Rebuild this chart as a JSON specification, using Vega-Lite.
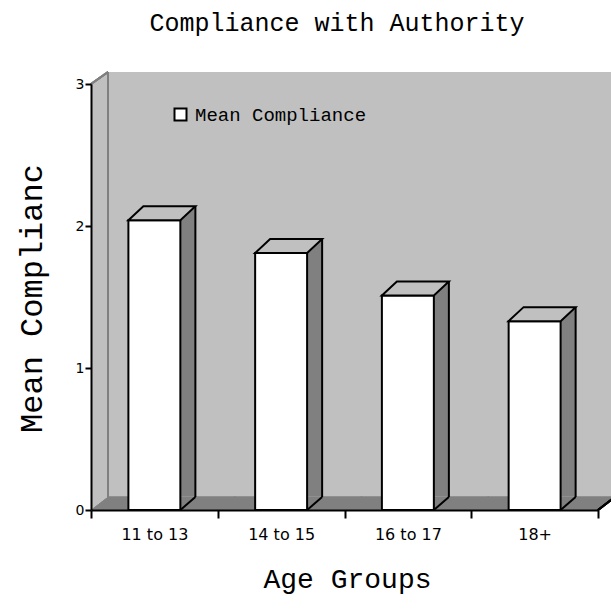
{
  "$schema": "https://vega.github.io/schema/vega-lite/v6.json",
  "width": 520,
  "height": 438,
  "autosize": "none",
  "padding": {"left": 91, "top": 72, "right": 0, "bottom": 86},
  "background": "white",
  "config": {"view": {"fill": "#c0c0c0", "stroke": null}},
  "title": {
    "text": "Compliance with Authority",
    "font": "Liberation Mono",
    "fontSize": 25,
    "fontWeight": "normal",
    "color": "black",
    "anchor": "middle",
    "dx": -14,
    "baseline": "alphabetic",
    "offset": 12
  },
  "data": {
    "values": [
      {"age": "11 to 13", "mean": 2.04},
      {"age": "14 to 15", "mean": 1.81},
      {"age": "16 to 17", "mean": 1.51},
      {"age": "18+", "mean": 1.33}
    ]
  },
  "encoding": {
    "x": {
      "field": "age",
      "type": "nominal",
      "sort": null,
      "title": "Age Groups",
      "scale": {"range": [0, 507], "paddingInner": 0, "paddingOuter": 0},
      "axis": {
        "titleFont": "Liberation Mono",
        "titleFontSize": 28,
        "titleFontWeight": "normal",
        "titleColor": "black",
        "titleX": 256,
        "titleY": 77,
        "titleBaseline": "alphabetic",
        "titleAlign": "center",
        "labelFont": "DejaVu Sans",
        "labelFontSize": 16,
        "labelColor": "black",
        "labelAngle": 0,
        "labelBaseline": "alphabetic",
        "labelPadding": 21,
        "tickSize": 8,
        "tickWidth": 2,
        "tickColor": "black",
        "tickBand": "extent",
        "domainColor": "black",
        "domainWidth": 2,
        "zindex": 1
      }
    },
    "y": {
      "field": "mean",
      "type": "quantitative",
      "title": "Mean Complianc",
      "scale": {"domain": [0, 3], "range": [438, 12], "nice": false, "zero": true},
      "axis": {
        "values": [0, 1, 2, 3],
        "grid": false,
        "titleFont": "Liberation Mono",
        "titleFontSize": 32,
        "titleFontWeight": "normal",
        "titleColor": "black",
        "titleX": -50,
        "titleY": 226,
        "titleBaseline": "alphabetic",
        "titleAlign": "center",
        "labelFont": "DejaVu Sans",
        "labelFontSize": 14,
        "labelColor": "black",
        "labelPadding": 1,
        "tickSize": 6,
        "tickWidth": 2,
        "tickColor": "black",
        "domainColor": "black",
        "domainWidth": 2,
        "zindex": 1
      }
    }
  },
  "layer": [
    {
      "mark": {"type": "rect", "fill": "#808080", "stroke": "#808080", "strokeWidth": 1.5, "xOffset": 17, "x2Offset": 17, "yOffset": -13},
      "encoding": {"y": {"datum": 0, "type": "quantitative"}, "y2": {"datum": 0}}
    },
    {
      "mark": {"type": "point", "shape": "M0,0L17,-13L18,-13L18,0Z", "size": 4, "filled": true, "fill": "#808080", "strokeWidth": 0, "opacity": 1},
      "encoding": {
        "x": {"datum": "11 to 13", "type": "nominal", "bandPosition": 0},
        "y": {"datum": 0, "type": "quantitative"}
      }
    },
    {
      "mark": {"type": "point", "shape": "M0,1L17,-12L17,2L0,2Z", "size": 4, "filled": true, "fill": "white", "strokeWidth": 0, "opacity": 1},
      "encoding": {
        "x": {"datum": "18+", "type": "nominal", "bandPosition": 1},
        "y": {"datum": 0, "type": "quantitative"}
      }
    },
    {
      "mark": {"type": "point", "shape": "M0,0L17,-13", "size": 4, "filled": false, "stroke": "black", "strokeWidth": 2, "opacity": 1},
      "encoding": {
        "x": {"datum": "18+", "type": "nominal", "bandPosition": 1},
        "y": {"datum": 0, "type": "quantitative"}
      }
    },
    {
      "mark": {"type": "point", "shape": "M0,0L17,-12L17,-13L-2,-13L-2,0Z", "size": 4, "filled": true, "fill": "white", "strokeWidth": 0, "opacity": 1},
      "encoding": {
        "x": {"datum": "11 to 13", "type": "nominal", "bandPosition": 0},
        "y": {"datum": 3, "type": "quantitative"}
      }
    },
    {
      "mark": {"type": "point", "shape": "M0,0L17,-12", "size": 4, "filled": false, "stroke": "#808080", "strokeWidth": 2, "opacity": 1},
      "encoding": {
        "x": {"datum": "11 to 13", "type": "nominal", "bandPosition": 0},
        "y": {"datum": 3, "type": "quantitative"}
      }
    },
    {
      "mark": {"type": "rule", "color": "#808080", "strokeWidth": 2, "xOffset": 17, "yOffset": -12, "y2Offset": -13},
      "encoding": {
        "x": {"datum": "11 to 13", "type": "nominal", "bandPosition": 0},
        "y": {"datum": 3, "type": "quantitative"},
        "y2": {"datum": 0}
      }
    },
    {
      "mark": {"type": "bar", "width": 15, "xOffset": 33.5, "yOffset": -14, "fill": "#808080", "strokeWidth": 0}
    },
    {
      "mark": {"type": "rule", "color": "black", "strokeWidth": 2, "xOffset": 41, "yOffset": -14, "y2Offset": -13},
      "encoding": {
        "x": {"field": "age", "type": "nominal", "bandPosition": 0.5},
        "y2": {"datum": 0}
      }
    },
    {
      "mark": {"type": "point", "shape": "M26,0L41,-13", "size": 4, "filled": false, "stroke": "black", "strokeWidth": 2, "opacity": 1},
      "encoding": {"y": {"datum": 0, "type": "quantitative"}}
    },
    {
      "mark": {"type": "bar", "width": {"band": 0.41}, "stroke": "black", "strokeWidth": 2},
      "encoding": {
        "fill": {
          "datum": "Mean Compliance",
          "type": "nominal",
          "scale": {"range": ["white"]},
          "legend": {
            "title": null,
            "orient": "none",
            "legendX": 80,
            "legendY": 33,
            "padding": 0,
            "symbolType": "square",
            "symbolSize": 144,
            "symbolStrokeColor": "black",
            "symbolStrokeWidth": 2,
            "symbolFillColor": "white",
            "labelFont": "Liberation Mono",
            "labelFontSize": 19,
            "labelColor": "black",
            "labelOffset": 5,
            "labelLimit": 400
          }
        }
      }
    },
    {
      "mark": {"type": "point", "shape": "M-26,0L26,0L41,-14L-11,-14Z", "size": 4, "filled": true, "fill": "#c0c0c0", "stroke": "black", "strokeWidth": 2, "opacity": 1}
    }
  ]
}
